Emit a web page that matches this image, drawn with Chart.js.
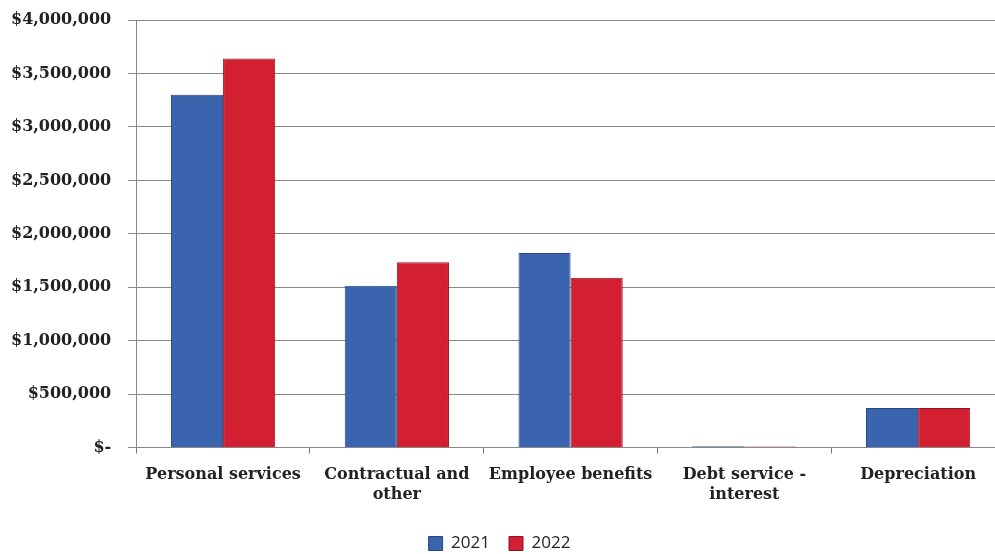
<!DOCTYPE html>
<html>
<head>
<meta charset="utf-8">
<script src="https://cdn.jsdelivr.net/npm/chart.js@4"></script>
<style>
  html, body { margin:0; padding:0; background:#fff; overflow:hidden; }
  #wrap { width:1005px; height:554px; }
</style>
</head>
<body>
<div id="wrap"><canvas id="c" width="1005" height="554"></canvas></div>
<script>
// expense categories and yearly amounts
const categories = ['Personal services', ['Contractual and', 'other'], 'Employee benefits', ['Debt service -', 'interest'], 'Depreciation'];
const values2021 = [3300000, 1515000, 1820000, 12000, 370000];
const values2022 = [3640000, 1735000, 1590000, 10000, 370000];
const yTicks = [0, 500000, 1000000, 1500000, 2000000, 2500000, 3000000, 3500000, 4000000];

const serif = '"DejaVu Serif", serif';

new Chart(document.getElementById('c').getContext('2d'), {
  type: 'bar',
  data: {
    labels: categories,
    datasets: [
      { label: '2021', data: values2021, backgroundColor: '#3a64ad', borderColor: '#27467f', borderWidth: 1 },
      { label: '2022', data: values2022, backgroundColor: '#d21f32', borderColor: '#8e1420', borderWidth: 1 }
    ]
  },
  options: {
    responsive: false,
    animation: false,
    layout: { padding: { left: -6, top: 0, right: 0, bottom: -8 } },
    datasets: { bar: { categoryPercentage: 0.6, barPercentage: 1 } },
    plugins: {
      tooltip: { enabled: false },
      legend: {
        position: 'bottom',
        labels: { color: '#222', font: { family: '"Open Sans", sans-serif', size: 17 }, boxWidth: 14, boxHeight: 14, padding: 19 }
      }
    },
    scales: {
      x: {
        grid: { offset: true, drawOnChartArea: false, drawTicks: true, tickLength: 6, color: '#777' },
        border: { color: '#888' },
        ticks: { color: '#222', font: { family: serif, weight: 'bold', size: 16 }, maxRotation: 0, autoSkip: false, padding: 12 }
      },
      y: {
        min: 0, max: 4000000,
        afterBuildTicks: axis => { axis.ticks = yTicks.map(v => ({ value: v })); },
        afterFit: s => { s.paddingTop = 20; s.paddingBottom = 10; },
        grid: { color: '#8a8a8a', tickLength: 8 },
        border: { color: '#888' },
        ticks: {
          color: '#222',
          font: { family: serif, weight: 'bold', size: 16 },
          padding: 17,
          callback: v => v === 0 ? '$-' : '$' + v.toLocaleString('en-US')
        }
      }
    }
  }
});
</script>
</body>
</html>
